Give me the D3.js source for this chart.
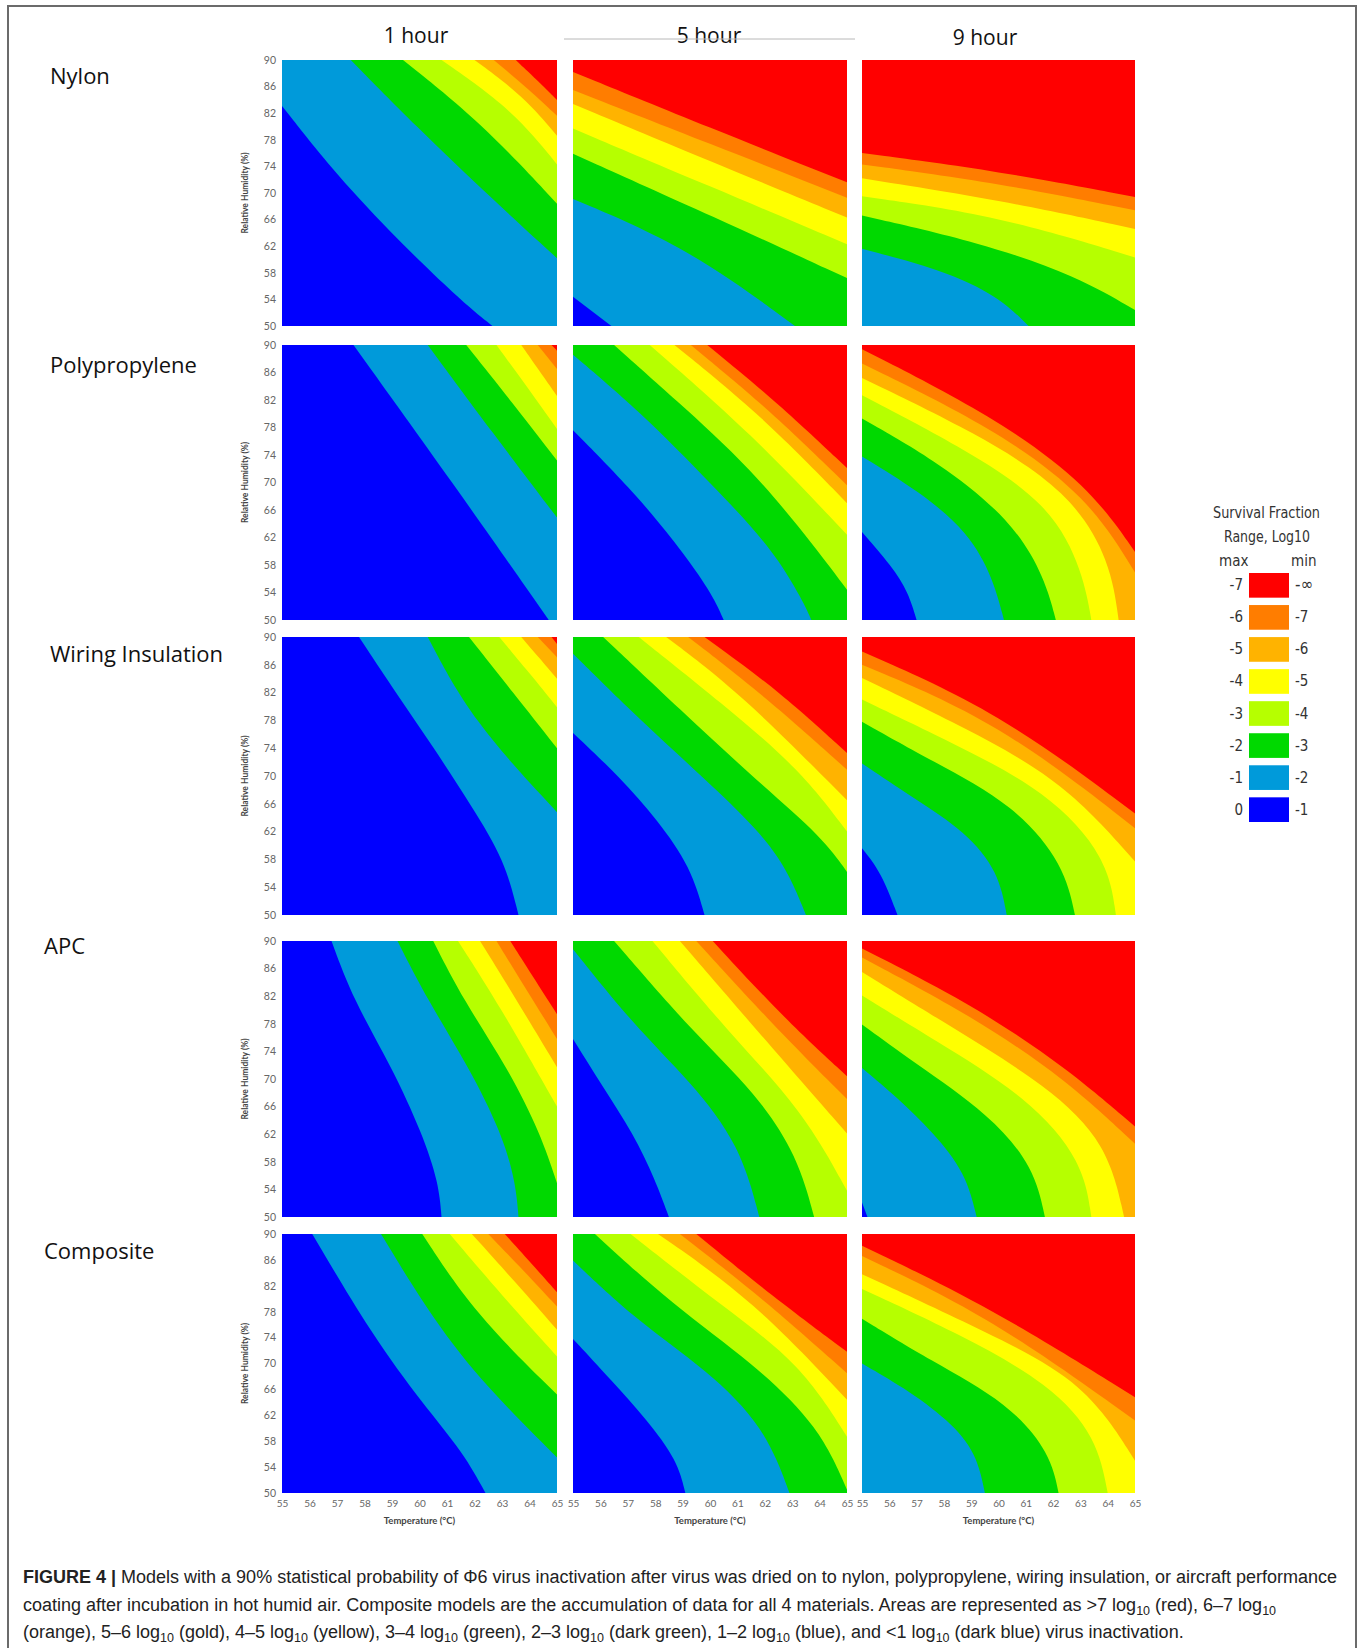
<!DOCTYPE html>
<html>
<head>
<meta charset="utf-8">
<script src="https://cdn.jsdelivr.net/npm/d3@7"></script>
<style>
  body { margin: 0; background: #fff; }
</style>
</head>
<body>
<div id="chart"></div>
<script>
var svgWidth = 1362;
var svgHeight = 1648;

// Categories and tick labels
var materials = ["Nylon", "Polypropylene", "Wiring Insulation", "APC", "Composite"];
var hours = ["1 hour", "5 hour", "9 hour"];
var rhTicks = [50, 54, 58, 62, 66, 70, 74, 78, 82, 86, 90];
var tempTicks = [55, 56, 57, 58, 59, 60, 61, 62, 63, 64, 65];

// bands from <1 log (dark blue) up to >7 log (red)
var bandColors = ["#0000ff", "#009ada", "#00d900", "#b6ff00", "#ffff00", "#ffb300", "#ff7d00", "#ff0000"];
var legendMax = ["-7", "-6", "-5", "-4", "-3", "-2", "-1", "0"];
var legendMin = ["-\u221e", "-7", "-6", "-5", "-4", "-3", "-2", "-1"];

// Contour boundaries, [temperature, RH] points.
// entry i = edge between band i (below-left) and band i+1 (above-right); null = not in view
var nylon1h = [
    [[55, 83.1], [56.7, 74.1], [58.9, 64.2], [61.4, 54.2], [62.65, 50]],
    [[57.5, 90], [59.8, 80.3], [62.8, 68.5], [65, 60.2]],
    [[59.4, 90], [62.2, 80.8], [65, 68.4]],
    [[60.8, 90], [63.4, 82.5], [65, 74.3]],
    [[62.0, 90], [63.8, 84.5], [65, 78.6]],
    [[62.7, 90], [64.0, 85.5], [65, 81.6]],
    [[63.5, 90], [64.4, 86.5], [65, 84.0]]
];
var nylon5h = [
    [[55, 54.4], [56.4, 50]],
    [[55, 69.1], [59.2, 61.8], [63.1, 50]],
    [[55, 75.9], [60.2, 66.3], [65, 57.2]],
    [[55, 79.7], [60, 71.0], [65, 62.3]],
    [[55, 83.4], [60, 74.8], [65, 66.3]],
    [[55, 85.5], [60, 77.4], [65, 69.3]],
    [[55, 88.2], [60, 79.8], [65, 71.6]]
];
var nylon9h = [
    null,
    [[55, 61.6], [57.9, 58.5], [60.0, 54.5], [61.1, 50]],
    [[55, 66.6], [59.3, 62.6], [62.9, 57.5], [65, 52.4]],
    [[55, 69.5], [60.0, 66.6], [65, 60.3]],
    [[55, 72.2], [60, 69.0], [65, 64.6]],
    [[55, 74.3], [60, 71.5], [65, 67.4]],
    [[55, 76.0], [60, 73.3], [65, 69.4]]
];
var poly1h = [
    [[57.6, 90], [61.2, 70.0], [64.7, 50]],
    [[60.3, 90], [62.7, 77.0], [65, 64.9]],
    [[61.7, 90], [63.4, 81.5], [65, 73.2]],
    [[62.8, 90], [63.9, 84.0], [65, 77.8]],
    [[63.7, 90], [64.35, 86.3], [65, 82.6]],
    [[64.3, 90], [65, 86.5]],
    [[64.8, 90], [65, 89.2]]
];
var poly5h = [
    [[55, 77.6], [57.4, 67.9], [59.1, 59.4], [60.1, 53.6], [60.5, 50]],
    [[55, 88.6], [57.4, 80.5], [60.1, 69.6], [62.3, 60.3], [63.4, 52.7], [63.7, 50]],
    [[56.5, 90], [58.7, 82.2], [61.5, 72.1], [63.9, 60.3], [65, 54.4]],
    [[57.8, 90], [61.5, 77.2], [65, 62.4]],
    [[58.7, 90], [61.9, 79.7], [65, 67.0]],
    [[59.3, 90], [62.2, 80.5], [65, 69.6]],
    [[59.9, 90], [62.5, 81.5], [65, 72.1]]
];
var poly9h = [
    [[55, 62.8], [56.1, 57.8], [56.7, 54], [57.0, 50]],
    [[55, 73.8], [57.1, 68.7], [58.9, 62.8], [59.8, 56.1], [60.2, 50]],
    [[55, 79.3], [57.8, 73.0], [60.5, 64.5], [61.7, 56.1], [62.1, 50]],
    [[55, 82.7], [58.5, 75.5], [61.9, 67.0], [63.1, 56.9], [63.4, 50]],
    [[55, 85.2], [59.2, 77.2], [62.6, 68.7], [64.1, 58.6], [64.4, 50]],
    [[55, 87.3], [59.8, 78.0], [63.3, 67.9], [65, 56.9]],
    [[55, 89.4], [59.8, 79.7], [63.3, 69.6], [65, 59.9]]
];
var wire1h = [
    [[57.8, 90], [59.0, 82.8], [60.5, 74.2], [61.9, 65.6], [63.1, 57.9], [63.6, 50]],
    [[60.3, 90], [61.9, 78.0], [65, 64.8]],
    [[61.8, 90], [63.4, 82.0], [65, 74.0]],
    [[62.9, 90], [64.0, 84.8], [65, 79.9]],
    [[63.7, 90], [64.35, 87.0], [65, 84.0]],
    [[64.3, 90], [65, 87.1]],
    [[64.8, 90], [65, 89.0]]
];
var wire5h = [
    [[55, 76.2], [56.7, 69.9], [58.1, 63.6], [59.3, 56.9], [59.8, 50]],
    [[55, 87.6], [57.4, 78.2], [60.4, 67.5], [62.6, 58.8], [63.5, 50]],
    [[56.1, 90], [58.9, 79.6], [61.8, 69.0], [64.1, 61.2], [65, 56.2]],
    [[57.4, 90], [60.4, 80.6], [63.3, 70.9], [65, 62.0]],
    [[58.4, 90], [61.1, 82.0], [65, 66.5]],
    [[59.2, 90], [62.0, 81.5], [65, 70.9]],
    [[59.8, 90], [62.6, 82.0], [65, 73.3]]
];
var wire9h = [
    [[55, 59.6], [55.7, 56.2], [56.3, 50]],
    [[55, 71.8], [56.9, 66.8], [58.8, 62.0], [60.0, 56.2], [60.3, 50]],
    [[55, 77.8], [57.6, 72.1], [60.6, 65.8], [62.4, 57.2], [62.8, 50]],
    [[55, 81.0], [58.2, 75.0], [61.8, 67.8], [64.0, 58.2], [64.3, 50]],
    [[55, 84.1], [58.8, 76.9], [62.4, 69.2], [65, 57.7]],
    [[55, 86.0], [60.0, 77.8], [65, 62.5]],
    [[55, 87.9], [60.0, 79.3], [65, 64.6]]
];
var apc1h = [
    [[56.8, 90], [57.6, 81.4], [59.0, 71.7], [60.1, 62.1], [60.7, 54.9], [60.8, 50]],
    [[59.2, 90], [60.3, 81.4], [61.8, 71.7], [63.0, 62.1], [63.5, 54.9], [63.6, 50]],
    [[60.5, 90], [61.6, 81.4], [63.2, 71.7], [64.4, 62.1], [65, 54.9]],
    [[61.4, 90], [62.8, 81.4], [65, 66.0]],
    [[62.2, 90], [63.4, 82.3], [65, 71.7]],
    [[62.8, 90], [63.8, 83.5], [65, 75.8]],
    [[63.3, 90], [64.1, 85.0], [65, 79.4]]
];
var apc5h = [
    [[55, 75.8], [56.1, 68.8], [57.2, 62.1], [58.0, 55.4], [58.5, 50]],
    [[55, 88.8], [57.2, 77.9], [59.3, 69.6], [61.1, 60.4], [61.8, 50]],
    [[56.5, 90], [59.3, 77.1], [61.7, 67.9], [63.2, 58.8], [63.8, 50]],
    [[57.9, 90], [60.6, 77.1], [63.4, 65.4], [65, 53.8]],
    [[58.9, 90], [61.7, 77.1], [65, 62.1]],
    [[59.5, 90], [62.3, 77.8], [65, 67.1]],
    [[60.1, 90], [62.7, 78.8], [65, 70.4]]
];
var apc9h = [
    [[55, 52.1], [55.2, 50]],
    [[55, 71.6], [56.3, 67.3], [57.6, 62.3], [58.8, 56.4], [59.2, 50]],
    [[55, 77.9], [56.9, 72.4], [59.7, 64.8], [61.3, 57.2], [61.7, 50]],
    [[55, 82.1], [57.6, 75.8], [61.1, 67.3], [63.1, 58.0], [63.4, 50]],
    [[55, 85.5], [58.3, 77.5], [61.8, 69.0], [64.0, 60.6], [64.6, 50]],
    [[55, 87.6], [59.0, 79.2], [62.5, 69.9], [65, 60.6]],
    [[55, 88.9], [59.0, 80.9], [62.5, 71.6], [65, 63.1]]
];
var comp1h = [
    [[56.1, 90], [58.3, 74.2], [60.1, 63.9], [61.6, 56.2], [62.4, 50]],
    [[58.6, 90], [60.5, 76.7], [62.4, 66.5], [65, 55.5]],
    [[60.1, 90], [62.0, 77.7], [65, 65.2]],
    [[61.1, 90], [63.0, 80.5], [65, 71.1]],
    [[61.9, 90], [63.5, 82.5], [65, 75.2]],
    [[62.5, 90], [63.8, 84.3], [65, 78.8]],
    [[63.1, 90], [64.1, 85.3], [65, 81.0]]
];
var comp5h = [
    [[55, 73.8], [56.4, 67.4], [57.7, 61.3], [58.8, 55.1], [59.1, 50]],
    [[55, 85.9], [57.3, 76.7], [59.9, 69.0], [62.0, 60.2], [62.9, 50]],
    [[55.8, 90], [58.6, 79.2], [61.6, 70.0], [64.0, 60.2], [65, 50.5]],
    [[57.1, 90], [60.5, 78.7], [63.3, 70.0], [65, 58.7]],
    [[58.1, 90], [61.6, 79.7], [65, 64.4]],
    [[58.9, 90], [62.0, 79.8], [65, 68.5]],
    [[59.5, 90], [62.3, 80.3], [65, 71.8]]
];
var comp9h = [
    null,
    [[55, 70.0], [56.5, 66.4], [58.2, 61.2], [59.2, 56.1], [59.5, 50]],
    [[55, 76.9], [57.5, 70.5], [60.4, 63.8], [61.9, 56.1], [62.2, 50]],
    [[55, 81.5], [58.6, 74.5], [61.9, 66.8], [63.6, 58.6], [64.0, 50]],
    [[55, 83.8], [59.7, 74.6], [63.2, 67.0], [65, 55.0]],
    [[55, 86.6], [59.7, 77.2], [65, 61.2]],
    [[55, 88.2], [59.7, 78.7], [65, 64.8]]
];

var captionLines = [
    "Models with a 90% statistical probability of \u03a66 virus inactivation after virus was dried on to nylon, polypropylene, wiring insulation, or aircraft performance",
    "coating after incubation in hot humid air. Composite models are the accumulation of data for all 4 materials. Areas are represented as >7 log10 (red), 6\u20137 log10",
    "(orange), 5\u20136 log10 (gold), 4\u20135 log10 (yellow), 3\u20134 log10 (green), 2\u20133 log10 (dark green), 1\u20132 log10 (blue), and <1 log10 (dark blue) virus inactivation."
];

var panels = [
    [nylon1h, nylon5h, nylon9h],
    [poly1h, poly5h, poly9h],
    [wire1h, wire5h, wire9h],
    [apc1h, apc5h, apc9h],
    [comp1h, comp5h, comp9h]
];

// layout of the panel grid
var colX = [[282, 557], [573, 847], [862, 1135]];
var rowY = [[60, 326], [345, 620], [637, 915], [941, 1217], [1234, 1493]];
var rowLabelPos = [[50, 84], [50, 373], [50, 662], [44, 954], [44, 1259]];
var titleX = [416, 709, 985];

var svg = d3.select("#chart")
    .append("svg")
    .attr("width", svgWidth)
    .attr("height", svgHeight);

// outer frame
svg.append("rect")
    .attr("x", 8).attr("y", 6)
    .attr("width", 1348).attr("height", 1700)
    .attr("fill", "none")
    .attr("stroke", "#6b6b6b")
    .attr("stroke-width", 2);

// column titles
svg.selectAll(".coltitle")
    .data(hours)
    .enter()
    .append("text")
    .attr("x", (d, i) => titleX[i])
    .attr("y", (d, i) => i == 2 ? 45 : 43)
    .attr("text-anchor", "middle")
    .style("font-family", "'Open Sans', sans-serif")
    .style("font-size", "21px")
    .style("fill", "#111")
    .text(d => d);

svg.append("line")
    .attr("x1", 564).attr("x2", 855)
    .attr("y1", 39).attr("y2", 39)
    .attr("stroke", "#b8b8b8")
    .attr("stroke-width", 1);

// row labels
svg.selectAll(".rowlabel")
    .data(materials)
    .enter()
    .append("text")
    .attr("x", (d, i) => rowLabelPos[i][0])
    .attr("y", (d, i) => rowLabelPos[i][1])
    .style("font-family", "'Open Sans', sans-serif")
    .style("font-size", "22px")
    .style("fill", "#111")
    .text(d => d);

var defs = svg.append("defs");

panels.forEach(function(row, r) {
    row.forEach(function(bounds, c) {
        var x = d3.scaleLinear().domain([55, 65]).range(colX[c]);
        var y = d3.scaleLinear().domain([50, 90]).range([rowY[r][1], rowY[r][0]]);

        var clipId = "clip-" + r + "-" + c;
        defs.append("clipPath")
            .attr("id", clipId)
            .append("rect")
            .attr("x", x(55)).attr("y", y(90))
            .attr("width", x(65) - x(55))
            .attr("height", y(50) - y(90));

        var g = svg.append("g").attr("clip-path", "url(#" + clipId + ")");

        var line = d3.line()
            .x(d => x(d[0]))
            .y(d => y(d[1]))
            .curve(d3.curveBasis);

        var present = bounds.map((b, i) => b ? i : -1).filter(i => i >= 0);
        var topBand = d3.max(present) + 1;

        g.append("rect")
            .attr("x", x(55)).attr("y", y(90))
            .attr("width", x(65) - x(55))
            .attr("height", y(50) - y(90))
            .attr("fill", bandColors[topBand]);

        // paint from the highest edge down, each fill covers the area below-left of its edge
        for (var i = bounds.length - 1; i >= 0; i--) {
            var pts = bounds[i];
            if (!pts) continue;
            var first = pts[0], last = pts[pts.length - 1];
            var d = line(pts) +
                "L" + x(last[0]) + "," + y(50) +
                "L" + x(55) + "," + y(50) +
                "L" + x(55) + "," + y(first[1]) + "Z";
            g.append("path")
                .attr("d", d)
                .attr("fill", bandColors[i]);
        }

        // y axis only on the first column
        if (c == 0) {
            var leftAxis = d3.axisLeft(y).tickValues(rhTicks).tickSize(0).tickPadding(6);
            var ax = svg.append("g")
                .attr("transform", `translate(${x(55)},0)`)
                .call(leftAxis);
            ax.select(".domain").remove();
            ax.selectAll("text")
                .style("font-family", "Lato, sans-serif")
                .style("font-size", "10.5px")
                .style("fill", "#666");

            svg.append("text")
                .attr("transform", `translate(248,${(y(50) + y(90)) / 2}) rotate(-90)`)
                .attr("text-anchor", "middle")
                .style("font-family", "Lato, sans-serif")
                .style("font-size", "8.5px")
                .style("font-weight", "bold")
                .style("fill", "#444")
                .text("Relative Humidity (%)");
        }

        // x axis only on the last row
        if (r == panels.length - 1) {
            var bottomAxis = d3.axisBottom(x).tickValues(tempTicks).tickSize(0).tickPadding(7);
            var bx = svg.append("g")
                .attr("transform", `translate(0,${y(50)})`)
                .call(bottomAxis);
            bx.select(".domain").remove();
            bx.selectAll("text")
                .style("font-family", "Lato, sans-serif")
                .style("font-size", "10px")
                .style("fill", "#666");

            svg.append("text")
                .attr("x", (x(55) + x(65)) / 2)
                .attr("y", 1524)
                .attr("text-anchor", "middle")
                .style("font-family", "Lato, sans-serif")
                .style("font-size", "9.5px")
                .style("font-weight", "bold")
                .style("fill", "#444")
                .text("Temperature (\u00b0C)");
        }
    });
});

// legend
var legend = svg.append("g").style("font-family", "'Liberation Sans Narrow', 'DejaVu Sans Condensed', sans-serif").style("fill", "#333");

legend.append("text")
    .attr("x", 1213).attr("y", 518)
    .attr("textLength", 107).attr("lengthAdjust", "spacingAndGlyphs")
    .style("font-size", "16px")
    .text("Survival Fraction");
legend.append("text")
    .attr("x", 1224).attr("y", 542)
    .attr("textLength", 86).attr("lengthAdjust", "spacingAndGlyphs")
    .style("font-size", "16px")
    .text("Range, Log10");
legend.append("text")
    .attr("x", 1219).attr("y", 566)
    .style("font-size", "15px")
    .text("max");
legend.append("text")
    .attr("x", 1291).attr("y", 566)
    .style("font-size", "15px")
    .text("min");

var legendY = d3.scaleBand()
    .domain(legendMax)
    .range([573, 822])
    .paddingInner(0.23);

legend.selectAll(".swatch")
    .data(legendMax)
    .enter()
    .append("rect")
    .attr("x", 1249)
    .attr("y", d => legendY(d))
    .attr("width", 40)
    .attr("height", legendY.bandwidth())
    .attr("fill", (d, i) => bandColors[7 - i]);

legend.selectAll(".maxlab")
    .data(legendMax)
    .enter()
    .append("text")
    .attr("x", 1243)
    .attr("y", d => legendY(d) + legendY.bandwidth() / 2 + 5)
    .attr("text-anchor", "end")
    .style("font-size", "15px")
    .text(d => d);

legend.selectAll(".minlab")
    .data(legendMin)
    .enter()
    .append("text")
    .attr("x", 1295)
    .attr("y", (d, i) => legendY(legendMax[i]) + legendY.bandwidth() / 2 + 5)
    .style("font-size", (d, i) => i == 0 ? "17px" : "15px")
    .text(d => d);

// caption
var captionY = [1583, 1611, 1638];
captionLines.forEach(function(txt, li) {
    var t = svg.append("text")
        .attr("x", 23)
        .attr("y", captionY[li])
        .style("font-family", "'Liberation Sans', Arial, sans-serif")
        .style("font-size", "18px")
        .style("fill", "#222");
    if (li == 0) {
        t.append("tspan").style("font-weight", "bold").text("FIGURE 4 | ");
    }
    var parts = txt.split("log10");
    parts.forEach(function(p, k) {
        t.append("tspan").attr("dy", k > 0 ? -4 : 0).text(p);
        if (k < parts.length - 1) {
            t.append("tspan").text("log");
            t.append("tspan").attr("dy", 4).style("font-size", "12.5px").text("10");
        }
    });
});
</script>
</body>
</html>
